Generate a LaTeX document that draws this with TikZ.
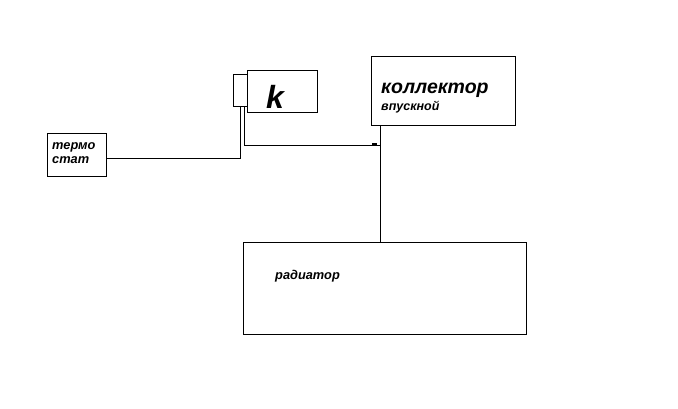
\documentclass[tikz,border=0pt]{standalone}
\usepackage{fontspec}
\setmainfont{Liberation Sans}
\usetikzlibrary{positioning}
\tikzset{
  unit/.style={draw, line width=0.9pt, inner sep=0pt, anchor=north west},
  caption/.style={font=\bfseries\itshape, inner sep=0pt, anchor=base west},
  wire/.style={line width=0.9pt}
}
\begin{document}
\begin{tikzpicture}[x=1pt, y=-1pt]
  \useasboundingbox (0,0) rectangle (678,408);

  % boxes
  \node (thermo) at (47,133) [unit, minimum width=59pt, minimum height=43pt] {};
  \node (relay) at (247,70) [unit, minimum width=70pt, minimum height=42pt] {};
  \node (pin) at (233,74) [unit, minimum width=14pt, minimum height=32pt] {};
  \node (collector) at (371,56) [unit, minimum width=144pt, minimum height=69pt] {};
  \node (radiator) at (243,242) [unit, minimum width=283pt, minimum height=92pt] {};

  % captions
  \node (thermoA) at (52,149) [caption, font=\fontsize{12.8}{13}\bfseries\itshape] {термо};
  \node (thermoB) at (52,163) [caption, font=\fontsize{12.8}{13}\bfseries\itshape] {стат};
  \node (relayK) at (266,108) [caption, font=\fontsize{32}{34}\bfseries\itshape] {k};
  \node (collA) at (381,93) [caption, font=\fontsize{19.5}{20}\bfseries\itshape] {коллектор};
  \node (collB) at (381,110) [caption, font=\fontsize{12.5}{13}\bfseries\itshape] {впускной};
  \node (radA) at (275,279) [caption, font=\fontsize{12.8}{13}\bfseries\itshape] {радиатор};

  % wiring
  \coordinate (tee) at (380,145);
  \draw[wire] (thermo.east |- 0,158) -| (pin.south -| 240.5,0);
  \draw[wire] (pin.south -| 244,0) |- (tee);
  \draw[wire] (collector.south -| tee) -- (radiator.north -| tee);
  \draw[line width=1.2pt] (372,144) -- (377,144);
\end{tikzpicture}
\end{document}
